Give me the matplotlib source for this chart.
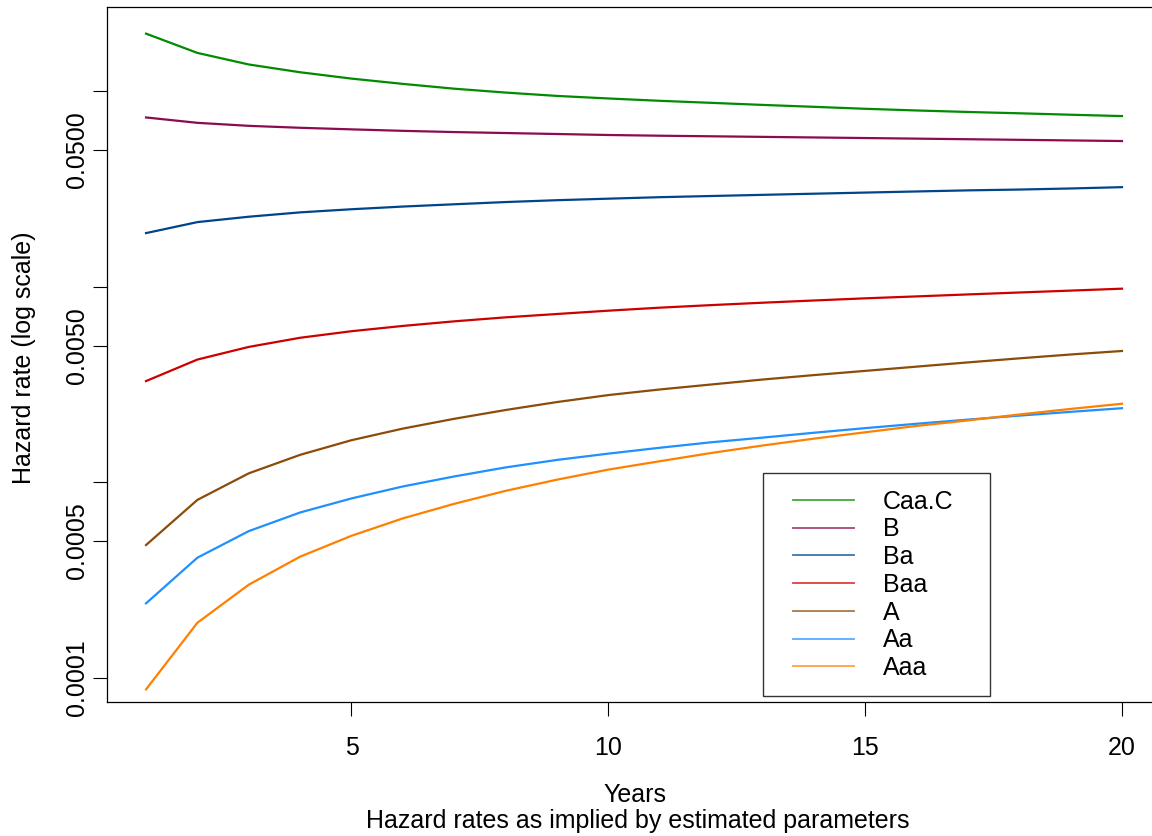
import numpy as np
import matplotlib
matplotlib.use("Agg")
import matplotlib.pyplot as plt
from matplotlib.lines import Line2D
from matplotlib.patches import Rectangle

plt.rcParams["font.family"] = ["Liberation Sans", "DejaVu Sans"]

years = np.arange(1, 21)

caa_c = [0.197, 0.157, 0.137, 0.125, 0.116, 0.109, 0.103, 0.0984, 0.0946, 0.0918,
         0.0893, 0.0872, 0.0851, 0.0832, 0.0813, 0.0797, 0.0783, 0.0771, 0.0758, 0.0746]
b = [0.0734, 0.0689, 0.0665, 0.0650, 0.0638, 0.0627, 0.0618, 0.0611, 0.0604, 0.0597,
     0.0592, 0.0588, 0.0584, 0.0580, 0.0576, 0.0572, 0.0568, 0.0564, 0.0560, 0.0556]
ba = [0.0188, 0.0214, 0.0228, 0.0240, 0.0249, 0.0257, 0.0264, 0.0271, 0.0277, 0.0282,
      0.0287, 0.0291, 0.0295, 0.0299, 0.0303, 0.0307, 0.0311, 0.0314, 0.0318, 0.0323]
baa = [0.00329, 0.00424, 0.00492, 0.00548, 0.00592, 0.00630, 0.00665, 0.00697, 0.00725, 0.00754,
       0.00781, 0.00805, 0.00828, 0.00850, 0.00872, 0.00892, 0.00913, 0.00934, 0.00955, 0.00977]
a = [0.000477, 0.000812, 0.00111, 0.00138, 0.00164, 0.00188, 0.00211, 0.00234, 0.00257, 0.00279,
     0.00298, 0.00316, 0.00335, 0.00353, 0.00371, 0.00390, 0.00410, 0.00430, 0.00450, 0.00469]
aa = [0.000240, 0.000411, 0.000562, 0.000700, 0.000826, 0.000951, 0.00107, 0.00119, 0.00130, 0.00140,
      0.00150, 0.00160, 0.00169, 0.00179, 0.00189, 0.00199, 0.00209, 0.00219, 0.00229, 0.00239]
aaa = [0.0000871, 0.000191, 0.000299, 0.000416, 0.000532, 0.000653, 0.000775, 0.000903, 0.00103, 0.00116,
       0.00128, 0.00141, 0.00154, 0.00167, 0.00180, 0.00194, 0.00207, 0.00222, 0.00237, 0.00252]

labels = ["Caa.C", "B", "Ba", "Baa", "A", "Aa", "Aaa"]
series = [caa_c, b, ba, baa, a, aa, aaa]
colors = ["#008B00", "#8B0A50", "#00458B", "#CD0000", "#8B4C0A", "#1E90FF", "#FF8000"]

yticks = [0.0001, 0.0005, 0.001, 0.005, 0.01, 0.05, 0.1]
ytick_labels = ["0.0001", "0.0005", "", "0.0050", "", "0.0500", ""]
xticks = [5, 10, 15, 20]

FS = 18

fig = plt.figure(figsize=(11.52, 8.36), dpi=100)
ax = fig.add_axes([107 / 1152, 1 - 702 / 836, 1054 / 1152, 695 / 836])

for vals, col in zip(series, colors):
    ax.plot(years, vals, color=col, lw=1.6)

ax.set_yscale("log")
ax.set_xlim(0.24, 20.76)
ax.set_ylim(7.51e-5, 0.2696)
ax.minorticks_off()
ax.set_yticks(yticks)
ax.set_yticklabels(ytick_labels)
ax.set_xticks(xticks)
ax.set_xticklabels([str(t) for t in xticks])

for sp in ax.spines.values():
    sp.set_linewidth(0.9)
ax.tick_params(axis="both", length=10, width=0.8, labelsize=FS, direction="out")
ax.tick_params(axis="x", pad=14.5)
ax.tick_params(axis="y", pad=3)
plt.setp(ax.get_yticklabels(), rotation=90, va="center")

fig.text(635 / 1152, 1 - 795 / 836, "Years", ha="center", va="center", fontsize=FS)
fig.text(638 / 1152, 1 - 821 / 836, "Hazard rates as implied by estimated parameters",
         ha="center", va="center", fontsize=FS)
fig.text(24 / 1152, 1 - 358 / 836, "Hazard rate (log scale)", ha="center", va="center",
         rotation=90, fontsize=FS)

# legend box, R style
ax.add_patch(Rectangle((0.6224, 0.0086), 0.2154, 0.3209, transform=ax.transAxes,
                       fill=False, edgecolor="#333333", lw=1.0, zorder=5))
handles = [Line2D([], [], color=c, lw=1.3, alpha=0.75) for c in colors]
ax.legend(handles, labels, loc="upper left", bbox_to_anchor=(0.6509, 0.3054),
          frameon=False, fontsize=FS, handlelength=2.44, handletextpad=1.15,
          labelspacing=0.15, borderpad=0, borderaxespad=0)

fig.savefig("out.png", dpi=100)
